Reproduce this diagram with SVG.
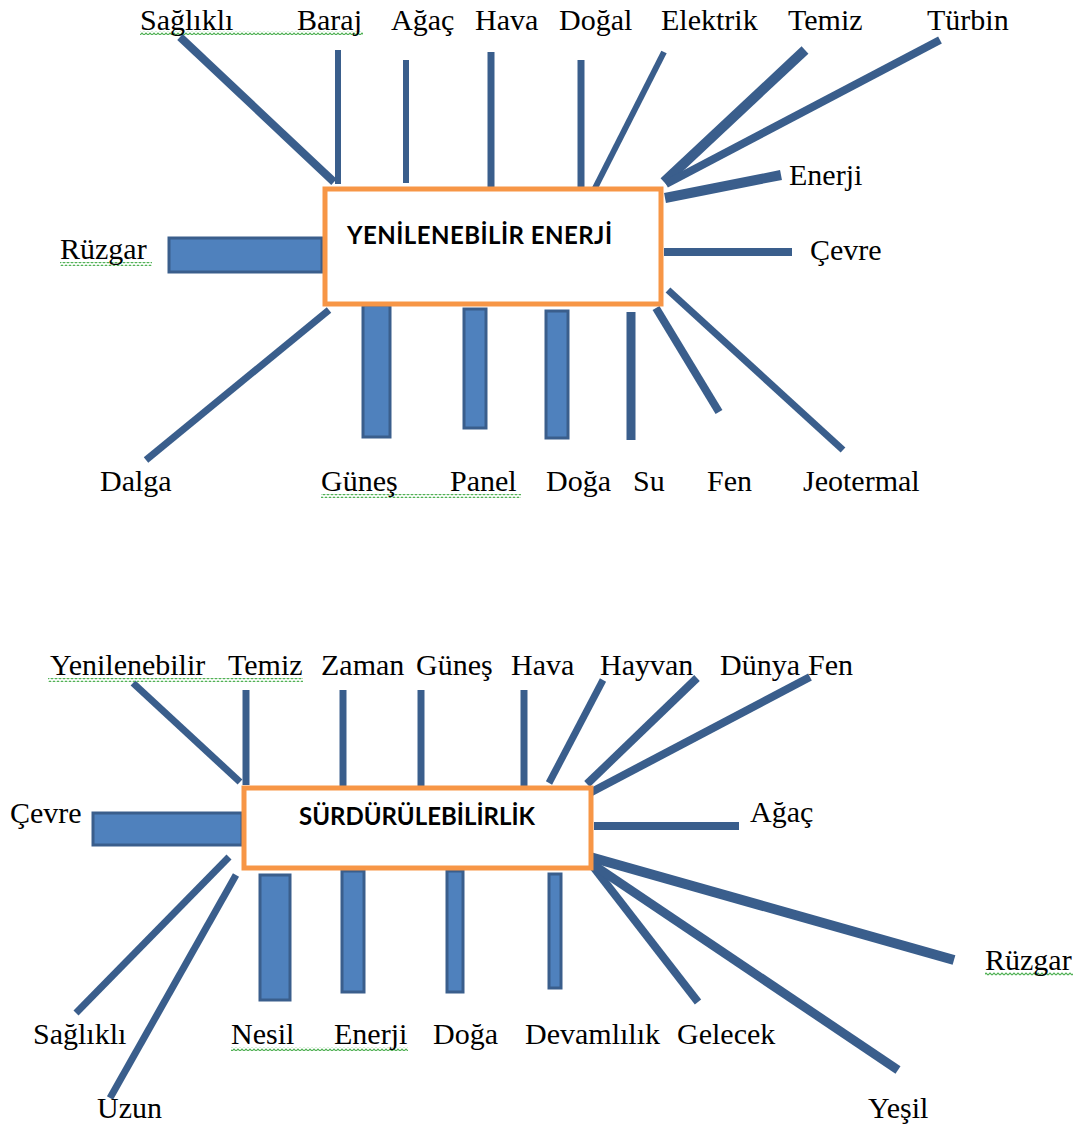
<svg xmlns="http://www.w3.org/2000/svg" width="1080" height="1129" viewBox="0 0 1080 1129">
<style>
.bg{fill:#fff}
.ln{stroke:#3A5E8C;fill:none}
.bar{fill:#4F81BD;stroke:#3A5E8C;stroke-width:3}
.box{fill:#fff;stroke:#F79646;stroke-width:5}
.lb{font-family:"Liberation Serif","Times New Roman",serif;font-size:30px;fill:#000}
.tt{font-family:Lato,"Liberation Sans",Arial,sans-serif;font-weight:bold;font-size:24px;fill:#000}
.wv{fill:url(#wavy)}
</style>
<defs>
<pattern id="wavy" width="4" height="4" patternUnits="userSpaceOnUse">
<polyline points="0,3 2,1 4,3" fill="none" stroke="#4CAF50" stroke-width="1.1"/>
</pattern>
</defs>
<rect class="bg" width="1080" height="1129"/>
<g id="connectors">
<g class="ln">
<line x1="180" y1="37" x2="334" y2="182" stroke-width="8"/>
<line x1="338" y1="50" x2="338" y2="184" stroke-width="6"/>
<line x1="406" y1="60" x2="406" y2="183" stroke-width="6"/>
<line x1="491" y1="52" x2="491" y2="190" stroke-width="7"/>
<line x1="581" y1="60" x2="581" y2="190" stroke-width="7"/>
<line x1="664" y1="52" x2="593" y2="192" stroke-width="6"/>
<line x1="805" y1="50" x2="664" y2="182" stroke-width="10"/>
<line x1="940" y1="40" x2="666" y2="184" stroke-width="8"/>
<line x1="781" y1="175" x2="665" y2="198" stroke-width="10"/>
<line x1="664" y1="252" x2="792" y2="252" stroke-width="8"/>
<line x1="329" y1="310" x2="146" y2="460" stroke-width="7"/>
<line x1="631" y1="312" x2="631" y2="440" stroke-width="9"/>
<line x1="656" y1="308" x2="719" y2="412" stroke-width="8"/>
<line x1="668" y1="290" x2="843" y2="450" stroke-width="7"/>
<line x1="133" y1="683" x2="240" y2="782" stroke-width="7"/>
<line x1="246" y1="690" x2="246" y2="785" stroke-width="7"/>
<line x1="343" y1="690" x2="343" y2="786" stroke-width="7"/>
<line x1="421" y1="690" x2="421" y2="786" stroke-width="7"/>
<line x1="524" y1="690" x2="524" y2="786" stroke-width="7"/>
<line x1="603" y1="680" x2="549" y2="783" stroke-width="7"/>
<line x1="697" y1="678" x2="587" y2="784" stroke-width="8"/>
<line x1="810" y1="677" x2="582" y2="797" stroke-width="8"/>
<line x1="594" y1="826" x2="739" y2="826" stroke-width="8"/>
<line x1="229" y1="857" x2="76" y2="1013" stroke-width="7"/>
<line x1="236" y1="875" x2="110" y2="1098" stroke-width="7"/>
<line x1="588" y1="860" x2="698" y2="1002" stroke-width="8"/>
<line x1="586" y1="860" x2="898" y2="1070" stroke-width="9"/>
<line x1="583" y1="855" x2="954" y2="960" stroke-width="10"/>
</g>
<rect class="bar" x="169" y="238" width="153" height="34"/>
<rect class="bar" x="363" y="305" width="27" height="132"/>
<rect class="bar" x="464" y="309" width="22" height="119"/>
<rect class="bar" x="546" y="311" width="22" height="127"/>
<rect class="bar" x="93" y="813" width="149" height="32"/>
<rect class="bar" x="260" y="875" width="30" height="125"/>
<rect class="bar" x="342" y="871" width="22" height="121"/>
<rect class="bar" x="447" y="871" width="16" height="121"/>
<rect class="bar" x="549" y="874" width="12" height="114"/>
</g>
<g id="node-yenilenebilir-enerji">
<rect class="box" x="325" y="189" width="336" height="115"/>
<text class="tt" x="347" y="244" textLength="265">YENİLENEBİLİR ENERJİ</text>
</g>
<g id="node-surdurulebilirlik">
<rect class="box" x="244" y="788" width="347" height="80"/>
<text class="tt" x="299" y="825" textLength="236">SÜRDÜRÜLEBİLİRLİK</text>
</g>
<g id="labels-top">
<rect class="wv" x="140" y="31" width="223" height="4"/>
<rect class="wv" x="60" y="262" width="92" height="4"/>
<rect class="wv" x="321" y="494" width="200" height="4"/>
<text class="lb" x="140" y="30">Sağlıklı</text>
<text class="lb" x="297" y="30">Baraj</text>
<text class="lb" x="391" y="30">Ağaç</text>
<text class="lb" x="475" y="30">Hava</text>
<text class="lb" x="559" y="30">Doğal</text>
<text class="lb" x="661" y="30">Elektrik</text>
<text class="lb" x="788" y="30">Temiz</text>
<text class="lb" x="927" y="30">Türbin</text>
<text class="lb" x="789" y="185">Enerji</text>
<text class="lb" x="810" y="260">Çevre</text>
<text class="lb" x="60" y="259">Rüzgar</text>
<text class="lb" x="100" y="491">Dalga</text>
<text class="lb" x="321" y="491">Güneş</text>
<text class="lb" x="450" y="491">Panel</text>
<text class="lb" x="546" y="491">Doğa</text>
<text class="lb" x="633" y="491">Su</text>
<text class="lb" x="707" y="491">Fen</text>
<text class="lb" x="803" y="491">Jeotermal</text>
</g>
<g id="labels-bottom">
<rect class="wv" x="48" y="678" width="255" height="4"/>
<rect class="wv" x="231" y="1047" width="177" height="4"/>
<rect class="wv" x="985" y="972" width="88" height="4"/>
<text class="lb" x="50" y="675">Yenilenebilir</text>
<text class="lb" x="228" y="675">Temiz</text>
<text class="lb" x="321" y="675">Zaman</text>
<text class="lb" x="416" y="675">Güneş</text>
<text class="lb" x="511" y="675">Hava</text>
<text class="lb" x="600" y="675">Hayvan</text>
<text class="lb" x="720" y="675">Dünya</text>
<text class="lb" x="808" y="675">Fen</text>
<text class="lb" x="10" y="823">Çevre</text>
<text class="lb" x="750" y="822">Ağaç</text>
<text class="lb" x="985" y="970">Rüzgar</text>
<text class="lb" x="33" y="1044">Sağlıklı</text>
<text class="lb" x="231" y="1044">Nesil</text>
<text class="lb" x="334" y="1044">Enerji</text>
<text class="lb" x="433" y="1044">Doğa</text>
<text class="lb" x="525" y="1044">Devamlılık</text>
<text class="lb" x="677" y="1044">Gelecek</text>
<text class="lb" x="97" y="1118">Uzun</text>
<text class="lb" x="868" y="1118">Yeşil</text>
</g>
</svg>
